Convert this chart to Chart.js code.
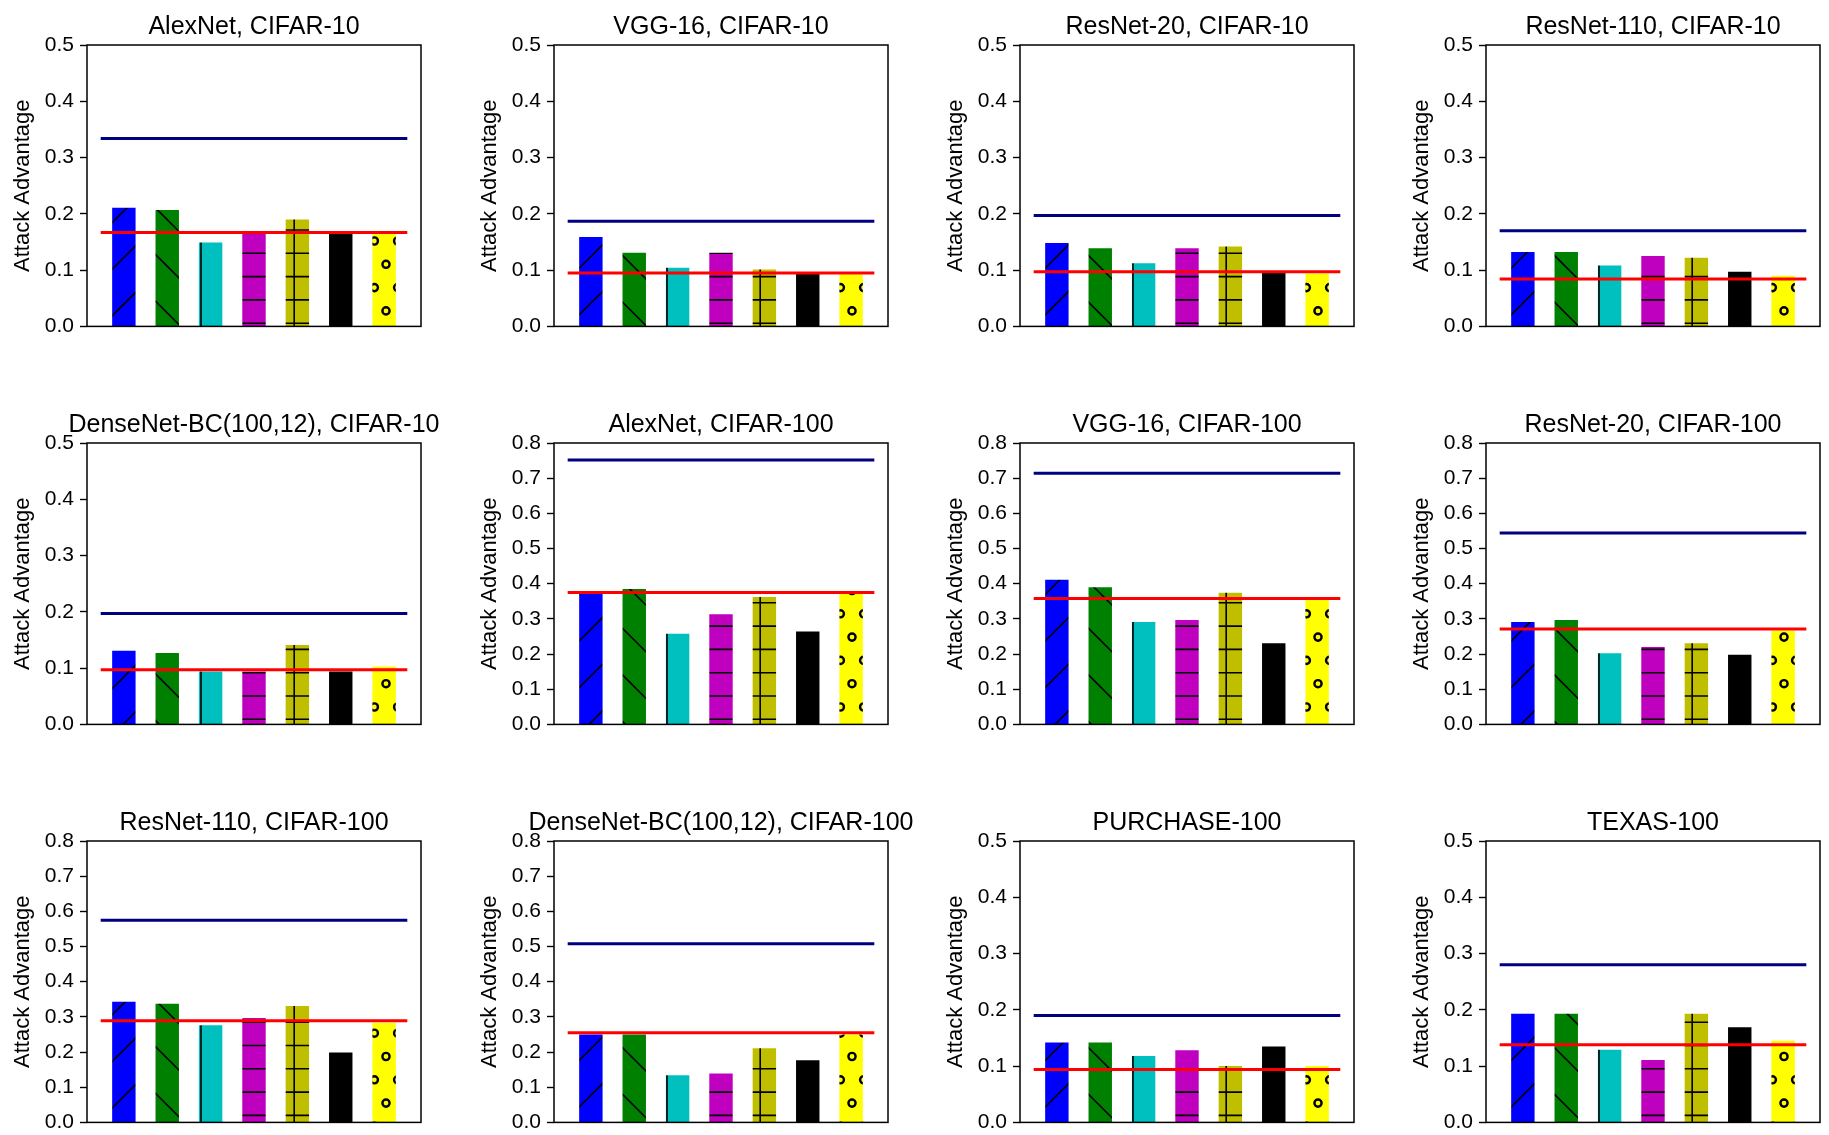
<!DOCTYPE html>
<html>
<head>
<meta charset="utf-8">
<script src="https://cdn.jsdelivr.net/npm/chart.js@4.4.1/dist/chart.umd.min.js"></script>
<style>
  body { margin: 0; background: #fff; width: 1829px; height: 1135px; overflow: hidden; position: relative; }
  canvas { position: absolute; }
</style>
</head>
<body>
<script>
// panel titles, left-to-right, top-to-bottom
const panelTitles = [
  'AlexNet, CIFAR-10', 'VGG-16, CIFAR-10', 'ResNet-20, CIFAR-10', 'ResNet-110, CIFAR-10',
  'DenseNet-BC(100,12), CIFAR-10', 'AlexNet, CIFAR-100', 'VGG-16, CIFAR-100', 'ResNet-20, CIFAR-100',
  'ResNet-110, CIFAR-100', 'DenseNet-BC(100,12), CIFAR-100', 'PURCHASE-100', 'TEXAS-100'
];
const yMax = [0.5, 0.5, 0.5, 0.5, 0.5, 0.8, 0.8, 0.8, 0.8, 0.8, 0.5, 0.5];

// seven bars per panel
const alexnetC10    = [0.211, 0.207, 0.149, 0.166, 0.190, 0.166, 0.164];
const vggC10        = [0.159, 0.131, 0.104, 0.131, 0.101, 0.093, 0.092];
const resnet20C10   = [0.148, 0.139, 0.112, 0.139, 0.142, 0.095, 0.094];
const resnet110C10  = [0.132, 0.132, 0.108, 0.125, 0.122, 0.097, 0.090];
const densenetC10   = [0.131, 0.127, 0.094, 0.094, 0.141, 0.094, 0.103];
const alexnetC100   = [0.372, 0.385, 0.258, 0.313, 0.362, 0.264, 0.372];
const vggC100       = [0.411, 0.390, 0.291, 0.297, 0.374, 0.231, 0.355];
const resnet20C100  = [0.291, 0.297, 0.202, 0.220, 0.231, 0.198, 0.266];
const resnet110C100 = [0.343, 0.337, 0.276, 0.297, 0.331, 0.199, 0.283];
const densenetC100  = [0.250, 0.250, 0.134, 0.139, 0.211, 0.177, 0.250];
const purchase100   = [0.142, 0.142, 0.118, 0.128, 0.100, 0.135, 0.100];
const texas100      = [0.193, 0.193, 0.129, 0.111, 0.193, 0.169, 0.145];
const panelBars = [alexnetC10, vggC10, resnet20C10, resnet110C10, densenetC10, alexnetC100,
                   vggC100, resnet20C100, resnet110C100, densenetC100, purchase100, texas100];

// horizontal reference levels per panel
const upperLevel = [0.334, 0.187, 0.197, 0.170, 0.197, 0.752, 0.714, 0.544, 0.575, 0.508, 0.190, 0.280];
const lowerLevel = [0.167, 0.095, 0.097, 0.084, 0.097, 0.375, 0.358, 0.271, 0.289, 0.255, 0.094, 0.138];
const lineSpan = [-0.5, 6.5];
const barSlots = [0, 1, 2, 3, 4, 5, 6];

const barColors  = ['#0000ff', '#008000', '#00bfbf', '#bf00bf', '#bfbf00', '#000000', '#ffff00'];
const barHatches = ['/', '\\', '|', '-', '+', '', 'o'];

// page geometry
const colLeft = [87, 554, 1020, 1486];
const rowTop = [45, 443, 841];
const AXIS_W = 87, PLOT_W = 334, PLOT_H = 284, TITLE_H = 45, RIGHT_PAD = 40, BOTTOM_PAD = 16;

Chart.defaults.font.family = '"Liberation Sans", Arial, sans-serif';
Chart.defaults.color = '#000';

// hatch tiles, phased to page coordinates (233 px = 5 hatch periods)
const PERIOD = 46.6, TILE = 233;
function hatchTile(color, hatch) {
  const cv = document.createElement('canvas');
  cv.width = TILE; cv.height = TILE;
  const g = cv.getContext('2d');
  g.fillStyle = color;
  g.fillRect(0, 0, TILE, TILE);
  g.strokeStyle = '#000';
  g.lineWidth = 1.6;
  const seg = (x1, y1, x2, y2) => { g.beginPath(); g.moveTo(x1, y1); g.lineTo(x2, y2); g.stroke(); };
  if (hatch === '/') {
    for (let c = 8.6 - PERIOD; c < 2 * TILE + PERIOD; c += PERIOD) seg(c + 5, -5, c - TILE - 5, TILE + 5);
  }
  if (hatch === '\\') {
    for (let c = 5.8 - TILE - PERIOD; c < TILE + PERIOD; c += PERIOD) seg(-5, c - 5, TILE + 5, c + TILE + 5);
  }
  if (hatch === '|' || hatch === '+') {
    for (let x = 14.6; x < TILE; x += PERIOD) seg(x, 0, x, TILE);
  }
  if (hatch === '-' || hatch === '+') {
    for (let y = 20.3; y < TILE; y += PERIOD / 2) seg(0, y, TILE, y);
  }
  if (hatch === 'o') {
    g.lineWidth = 2.4;
    const step = PERIOD / 2;
    for (let j = -1; j <= 11; j++) {
      const y = 31.3 + j * step;
      const x0 = (Math.abs(j) % 2 === 0) ? 13.2 : 13.2 + step / 2;
      for (let i = -1; i <= 11; i++) {
        g.beginPath();
        g.arc(x0 + i * step, y, 3.6, 0, Math.PI * 2);
        g.stroke();
      }
    }
  }
  return cv;
}
const tiles = barColors.map((c, i) => hatchTile(c, barHatches[i]));

// box around the plot area and the panel title
const panelFrame = {
  id: 'panelFrame',
  afterDraw(chart, args, opts) {
    const { ctx, chartArea: a } = chart;
    ctx.save();
    ctx.strokeStyle = '#000';
    ctx.lineWidth = 1.5;
    ctx.strokeRect(a.left, a.top, a.right - a.left, a.bottom - a.top);
    ctx.fillStyle = '#000';
    ctx.font = '25px "Liberation Sans", Arial, sans-serif';
    ctx.textAlign = 'center';
    ctx.textBaseline = 'alphabetic';
    ctx.fillText(opts.text, (a.left + a.right) / 2, a.top - 11.5);
    ctx.restore();
  }
};

panelTitles.forEach((title, p) => {
  const col = p % 4, row = Math.floor(p / 4);
  const left = colLeft[col] - AXIS_W, top = rowTop[row] - TITLE_H;
  const canvas = document.createElement('canvas');
  canvas.width = AXIS_W + PLOT_W + RIGHT_PAD;
  canvas.height = TITLE_H + PLOT_H + BOTTOM_PAD;
  canvas.style.left = left + 'px';
  canvas.style.top = top + 'px';
  document.body.appendChild(canvas);
  const ctx = canvas.getContext('2d');

  const fills = tiles.map(t => {
    const pat = ctx.createPattern(t, 'repeat');
    pat.setTransform(new DOMMatrix().translate(-left, -top));
    return pat;
  });

  new Chart(ctx, {
    type: 'bar',
    data: {
      datasets: [
        {
          type: 'line',
          data: lineSpan.map(x => ({ x, y: upperLevel[p] })),
          borderColor: '#000080', borderWidth: 3, borderCapStyle: 'square',
          pointRadius: 0, order: 0
        },
        {
          type: 'line',
          data: lineSpan.map(x => ({ x, y: lowerLevel[p] })),
          borderColor: '#ff0000', borderWidth: 3, borderCapStyle: 'square',
          pointRadius: 0, order: 0
        },
        {
          type: 'bar',
          data: panelBars[p].map((y, i) => ({ x: barSlots[i], y })),
          backgroundColor: fills,
          borderWidth: 0,
          barPercentage: 0.54,
          categoryPercentage: 1,
          order: 1
        }
      ]
    },
    plugins: [panelFrame],
    options: {
      responsive: false,
      animation: false,
      events: [],
      layout: { padding: { top: TITLE_H, left: 0, right: RIGHT_PAD, bottom: BOTTOM_PAD } },
      plugins: {
        legend: { display: false },
        tooltip: { enabled: false },
        panelFrame: { text: title }
      },
      scales: {
        x: {
          type: 'linear', display: false, offset: false, min: -0.85, max: 6.85,
          // one tick per bar slot so bar width follows the slot spacing
          afterBuildTicks: s => { s.ticks = barSlots.map(v => ({ value: v })); }
        },
        y: {
          min: 0, max: yMax[p],
          afterFit: s => { s.width = AXIS_W; },
          ticks: { stepSize: 0.1, callback: v => v.toFixed(1), color: '#000', font: { size: 21 }, padding: 6 },
          grid: { drawOnChartArea: false, tickLength: 7, tickColor: '#000', tickWidth: 1.4 },
          border: { display: false },
          title: {
            display: true, text: 'Attack Advantage', color: '#000',
            font: { size: 22 }, padding: { top: 10, bottom: 0 }
          }
        }
      }
    }
  });
});
</script>
</body>
</html>
